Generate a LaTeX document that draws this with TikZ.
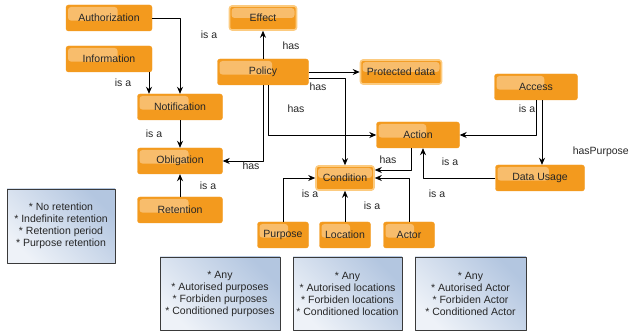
\documentclass[tikz,border=0pt]{standalone}
\usepackage{fontspec}
\setmainfont{Liberation Sans}
\usetikzlibrary{calc,arrows.meta}
\definecolor{nodeorange}{HTML}{F39A1E}
\definecolor{nodelight}{HTML}{F8BD6C}
\definecolor{nodeedge}{HTML}{FCCB80}
\definecolor{listtop}{HTML}{EEF2F8}
\definecolor{listbot}{HTML}{B3C6E0}
\definecolor{listedge}{HTML}{3A3A3A}
\tikzset{
 concept/.style={rectangle, rounded corners=2.5pt, fill=nodeorange, draw=nodeorange, minimum height=26pt, inner sep=1pt, text=black!85,
  path picture={\fill[nodelight, rounded corners=3pt] ($(path picture bounding box.north west)+(2pt,-2pt)$) rectangle ($(path picture bounding box.north west)!.6!(path picture bounding box.south east)$);}},
 keyconcept/.style={concept, draw=nodeedge, line width=1.6pt,
  path picture={\fill[nodelight, rounded corners=3pt] ($(path picture bounding box.north west)+(2pt,-2pt)$) rectangle ($(path picture bounding box.east)+(-2pt,0pt)$);}},
 valuelist/.style={rectangle, draw=listedge, line width=.8pt, left color=listtop, right color=listbot, shading angle=135, align=center, inner sep=0pt, text=black!85},
 lbl/.style={inner sep=0pt, text=black!85}
}
\begin{document}
\begin{tikzpicture} [x=1pt, y=-1pt, font=\fontsize{10.5}{12}\selectfont, line join=round, >={Stealth[length=7pt,width=6pt]}]
 \useasboundingbox (0,0) rectangle (630,334);
 \node[concept, minimum width=86pt] (author) at (109,18) {Authorization};
 \node[concept, minimum width=86pt] (info) at (109,59) {Information};
 \node[concept, minimum width=85pt] (notif) at (180,107) {Notification};
 \node[concept, minimum width=85pt] (oblig) at (180,161) {Obligation};
 \node[concept, minimum width=85pt] (reten) at (180,210) {Retention};
 \node[keyconcept, minimum width=67pt, minimum height=24pt] (effect) at (263,18) {Effect};
 \node[concept, minimum width=91pt] (policy) at (263,72) {Policy};
 \node[keyconcept, minimum width=81pt, minimum height=24pt] (protdata) at (401,72) {Protected data};
 \node[concept, minimum width=83pt] (access) at (536,87) {Access};
 \node[concept, minimum width=83pt] (action) at (418,135) {Action};
 \node[keyconcept, minimum width=58pt, minimum height=24pt] (cond) at (345,178) {Condition};
 \node[concept, minimum width=89pt] (datause) at (540,178) {Data Usage};
 \node[concept, minimum width=51pt] (purpose) at (283,235) {Purpose};
 \node[concept, minimum width=51pt] (location) at (345,235) {Location};
 \node[concept, minimum width=51pt] (actor) at (409,235) {Actor};
 \node[valuelist, minimum width=108pt, minimum height=74pt] (retlist) at (61,226) {* No retention\\* Indefinite retention\\* Retention period\\* Purpose retention};
 \node[valuelist, minimum width=120pt, minimum height=73pt] (purplist) at (220,293.5) {* Any\\* Autorised purposes\\* Forbiden purposes\\* Conditioned purposes};
 \node[valuelist, minimum width=109pt, minimum height=73pt] (loclist) at (347.5,293.5) {* Any\\* Autorised locations\\* Forbiden locations\\* Conditioned location};
 \node[valuelist, minimum width=111pt, minimum height=73pt] (actlist) at (470.5,293.5) {* Any\\* Autorised Actor\\* Forbiden Actor\\* Conditioned Actor};
 \begin{scope}[line width=.8pt]
 \draw[->] (author.east) -| (notif.north);
 \draw[->] ([xshift=40pt]info.south) -- ([xshift=40pt]info.south |- notif.north);
 \draw[->] (notif) -- (oblig);
 \draw[->] (reten) -- (oblig);
 \draw[->] (policy) -- (effect);
 \draw[->] (policy.east) -- (protdata.west);
 \draw[->] ([yshift=-6pt]policy.east) -| (cond.north);
 \draw[->] ([xshift=5pt]policy.south) |- (action.west);
 \draw[->] (policy.south) |- (oblig.east);
 \draw[->] ([xshift=6pt]access.south) -- ([xshift=6pt]access.south |- datause.north);
 \draw[->] (access.south) |- (action.east);
 \draw[->] (datause.west) -| ([xshift=5pt]action.south);
 \draw[->] ([xshift=-7pt]action.south) |- ([yshift=8pt]cond.east);
 \draw[->] (actor.north) |- (cond.east);
 \draw[->] (location) -- (cond);
 \draw[->] (purpose.north) |- (cond.west);
 \end{scope}
 \node[lbl] (isa1) at (209,35) {is a};
 \node[lbl] (has1) at (291,46) {has};
 \node[lbl] (isa2) at (123,83) {is a};
 \node[lbl] (isa3) at (154,134) {is a};
 \node[lbl] (has2) at (318,87) {has};
 \node[lbl] (has3) at (296,109) {has};
 \node[lbl] (has4) at (251,166) {has};
 \node[lbl] (isa4) at (208,186) {is a};
 \node[lbl] (isa5) at (527,109) {is a};
 \node[lbl, anchor=east] (haspurp) at (629,152) {hasPurpose};
 \node[lbl] (has5) at (388,160) {has};
 \node[lbl] (isa6) at (450,162) {is a};
 \node[lbl] (isa7) at (310,194) {is a};
 \node[lbl] (isa8) at (372,206) {is a};
 \node[lbl] (isa9) at (437,194) {is a};
\end{tikzpicture}
\end{document}
